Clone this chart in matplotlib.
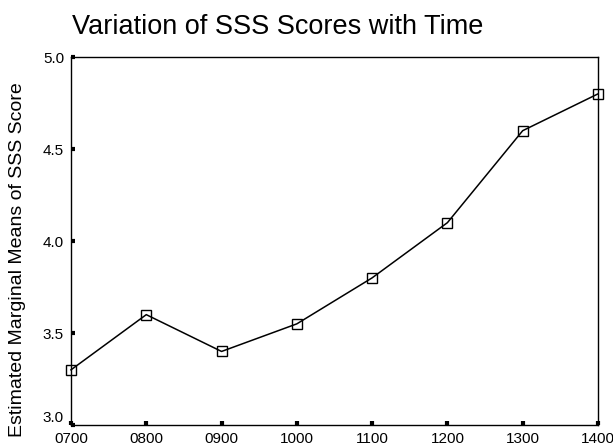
import matplotlib
matplotlib.use("Agg")
import matplotlib.pyplot as plt

plt.rcParams['font.family'] = ['Liberation Sans', 'DejaVu Sans']

times = ['0700', '0800', '0900', '1000', '1100', '1200', '1300', '1400']
sss_means = [3.30, 3.60, 3.40, 3.55, 3.80, 4.10, 4.60, 4.80]
y_ticks = [3.0, 3.5, 4.0, 4.5, 5.0]


def main():
    fig = plt.figure(figsize=(6.13, 4.46), dpi=100)
    ax = fig.add_axes([0.1158, 0.047, 0.8597, 0.825])

    xs = list(range(len(times)))
    ax.plot(xs, sss_means, color='black', linewidth=1.1,
            marker='s', markersize=6.5, markerfacecolor='none',
            markeredgecolor='black', markeredgewidth=1.0, clip_on=False)

    ax.set_xlim(0, len(times) - 1)
    ax.set_ylim(3.0, 5.0)
    ax.set_xticks(xs)
    ax.set_xticklabels(times)
    ax.set_yticks(y_ticks)
    ax.set_yticklabels(['%.1f' % v for v in y_ticks])
    ax.tick_params(direction='in', length=3, width=3, labelsize=11, pad=5)
    # bottom y label sits a little higher so it clears the 0700 label
    ax.get_yticklabels()[0].set_va('bottom')

    for side in ax.spines.values():
        side.set_linewidth(1.0)

    ax.set_ylabel('Estimated Marginal Means of SSS Score', fontsize=14)
    ax.yaxis.set_label_coords(-0.085, 0.45)
    fig.text(0.118, 0.94, 'Variation of SSS Scores with Time', fontsize=19.5,
             ha='left', va='center')

    fig.savefig('out.png', dpi=100)


main()
